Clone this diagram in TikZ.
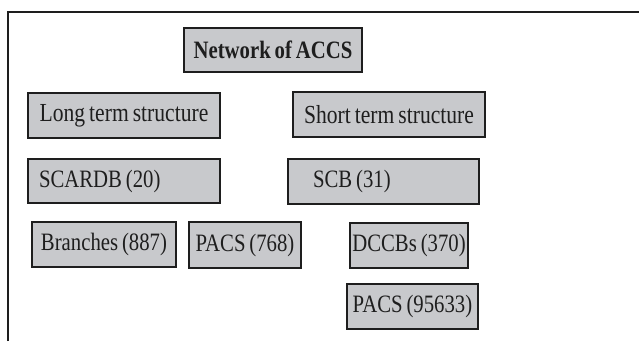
\documentclass[tikz,border=0pt]{standalone}
\usepackage{fontspec}
\setmainfont{Liberation Serif}[FakeStretch=0.83, WordSpace=0.75]
\definecolor{boxgray}{RGB}{200,201,204}
\definecolor{edge}{RGB}{30,30,30}
\newcommand{\leftin}[2]{\makebox[#1][l]{#2}}
\begin{document}
\begin{tikzpicture}[x=1pt,y=-1pt,
  box/.style={draw=edge, line width=1.8pt, fill=boxgray, inner sep=0pt,
    font=\fontsize{25}{28}\selectfont, text=edge}]
\useasboundingbox (0,0) rectangle (639,341);
\draw[edge, line width=2pt] (8,341) -- (8,12) -- (639,12);
\node[box, minimum width=178, minimum height=44, font=\fontsize{25}{28}\selectfont\bfseries] (net) at (273,50) {Network of ACCS};
\node[box, minimum width=192, minimum height=45, font=\fontsize{26}{28}\selectfont] (long) at (124,115.5) {Long term structure};
\node[box, minimum width=192, minimum height=45, font=\fontsize{26}{28}\selectfont] (short) at (389,114.5) {Short term structure};
\node[box, minimum width=192, minimum height=44, inner xsep=11pt] (scardb) at (124,181) {\leftin{170pt}{SCARDB (20)}};
\node[box, minimum width=191, minimum height=45, inner xsep=25pt] (scb) at (383.5,181.5) {\leftin{141pt}{SCB (31)}};
\node[box, minimum width=144, minimum height=45] (branches) at (104,244.5) {Branches (887)};
\node[box, minimum width=112, minimum height=46] (pacs1) at (245,245) {PACS (768)};
\node[box, minimum width=118, minimum height=45] (dccbs) at (409,245.5) {DCCBs (370)};
\node[box, minimum width=131, minimum height=45] (pacs2) at (412.5,306.5) {PACS (95633)};
\end{tikzpicture}
\end{document}
